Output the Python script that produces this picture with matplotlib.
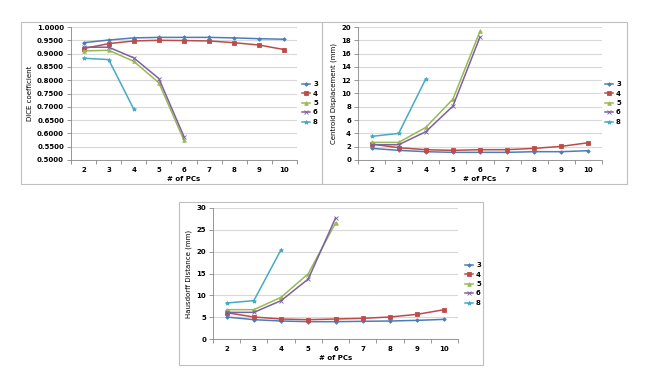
import matplotlib.pyplot as plt
from matplotlib.patches import Rectangle
import numpy as np

# number of PCs (category axis)
pcs = [2, 3, 4, 5, 6, 7, 8, 9, 10]
series_names = ['3', '4', '5', '6', '8']

# DICE coefficient
dice = {
    '3': [0.941, 0.951, 0.959, 0.961, 0.961, 0.961, 0.959, 0.956, 0.954],
    '4': [0.919, 0.9375, 0.9475, 0.950, 0.949, 0.9475, 0.941, 0.932, 0.915],
    '5': [0.910, 0.9125, 0.871, 0.790, 0.574],
    '6': [0.924, 0.924, 0.884, 0.806, 0.5875],
    '8': [0.8825, 0.8775, 0.691],
}

# centroid displacement (mm)
centroid = {
    '3': [1.75, 1.45, 1.25, 1.15, 1.15, 1.15, 1.25, 1.25, 1.4],
    '4': [2.4, 1.85, 1.55, 1.45, 1.55, 1.55, 1.75, 2.05, 2.6],
    '5': [2.65, 2.65, 4.9, 9.15, 19.35],
    '6': [2.3, 2.3, 4.25, 8.1, 18.5],
    '8': [3.55, 4.0, 12.2],
}

# hausdorff distance (mm)
hausdorff = {
    '3': [5.04, 4.43, 4.12, 3.97, 3.97, 4.05, 4.12, 4.27, 4.5],
    '4': [6.03, 5.04, 4.58, 4.43, 4.58, 4.73, 5.04, 5.65, 6.72],
    '5': [6.72, 6.72, 9.54, 14.96, 26.56],
    '6': [6.1, 6.1, 8.78, 13.74, 27.7],
    '8': [8.24, 8.78, 20.46],
}

colors = {'3': '#4A7EBB', '4': '#BE4B48', '5': '#98B954', '6': '#7D60A0', '8': '#46AAC5'}
markers = {'3': 'D', '4': 's', '5': '^', '6': 'x', '8': '*'}
msize = {'3': 1.8, '4': 2.4, '5': 2.6, '6': 2.8, '8': 3.0}

W, H = 657, 374
fig = plt.figure(figsize=(W / 100, H / 100), dpi=100)
plt.rcParams['font.family'] = 'DejaVu Sans'


def px_rect(x0, y0, x1, y1):
    # pixel box (top-left origin) -> figure fraction
    return [x0 / W, 1 - y1 / H, (x1 - x0) / W, (y1 - y0) / H]


def frame(x0, y0, x1, y1):
    fig.patches.append(Rectangle((x0 / W, 1 - y1 / H), (x1 - x0) / W, (y1 - y0) / H,
                                 transform=fig.transFigure, fill=False,
                                 edgecolor='#BFBFBF', linewidth=0.8))


def draw_chart(box, data, yticks, fmt, ylabel, legend_xy):
    ax = fig.add_axes(px_rect(*box))
    for name in series_names:
        vals = data[name]
        ax.plot(pcs[:len(vals)], vals, color=colors[name], marker=markers[name],
                markersize=msize[name], linewidth=1.1, markeredgewidth=0.6, label=name)
    ax.set_xlim(1.5, 10.5)
    ax.set_ylim(yticks[0], yticks[-1])
    ax.set_yticks(yticks)
    ax.set_yticklabels([fmt.format(v) for v in yticks], fontsize=5, fontweight='bold')
    ax.set_xticks(pcs)
    ax.set_xticklabels([str(p) for p in pcs], fontsize=5, fontweight='bold')
    ax.set_xticks(np.arange(1.5, 11, 1), minor=True)
    ax.tick_params(axis='x', which='major', length=0, pad=5)
    ax.tick_params(axis='x', which='minor', length=3, color='#868686', width=0.6)
    ax.tick_params(axis='y', length=3, color='#868686', width=0.6, pad=2)
    ax.yaxis.grid(True, color='#D9D9D9', linewidth=0.8)
    ax.set_axisbelow(True)
    for s in ['top', 'right']:
        ax.spines[s].set_visible(False)
    for s in ['left', 'bottom']:
        ax.spines[s].set_color('#868686')
        ax.spines[s].set_linewidth(0.6)
    ax.set_xlabel('# of PCs', fontsize=5, fontweight='bold', labelpad=2)
    ax.set_ylabel(ylabel, fontsize=5, labelpad=3)
    lx, ly = legend_xy
    ax.legend(loc='center left', bbox_to_anchor=(lx / W, 1 - ly / H),
              bbox_transform=fig.transFigure, frameon=False,
              handlelength=1.2, handletextpad=0.4, labelspacing=0.5,
              borderaxespad=0, borderpad=0,
              prop={'size': 5, 'weight': 'bold'})
    return ax


frame(21, 22, 322, 184)
frame(322, 22, 627, 184)
frame(179, 202, 483, 365)

draw_chart((71, 27, 297, 160), dice, [0.5 + 0.05 * i for i in range(11)], '{:.4f}',
           'DICE coefficient', (302, 103))
draw_chart((358, 27, 602, 160), centroid, list(range(0, 21, 2)), '{:d}',
           'Centroid Displacement (mm)', (605, 103))
draw_chart((213, 208, 458, 339), hausdorff, list(range(0, 31, 5)), '{:d}',
           'Hausdorff Distance (mm)', (465, 284))

fig.savefig('out.png', dpi=100)
